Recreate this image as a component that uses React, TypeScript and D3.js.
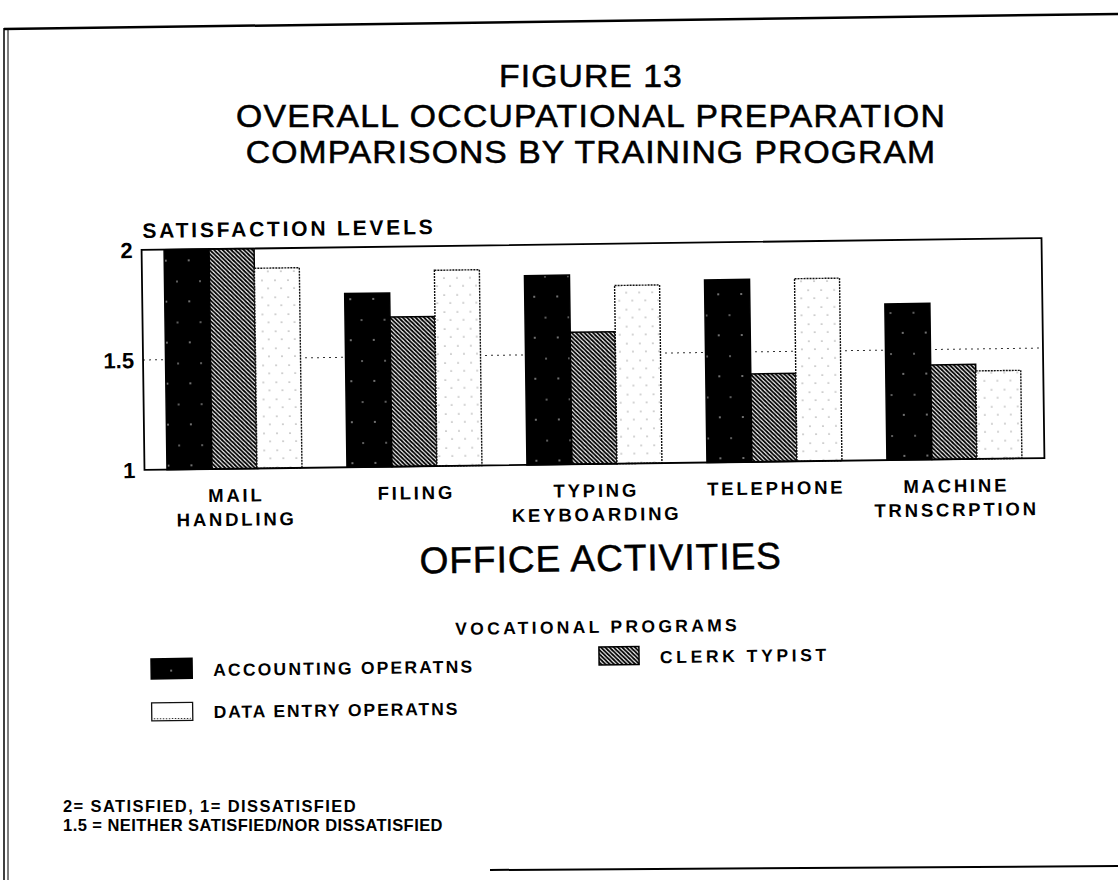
import React from 'react';
import * as d3 from 'd3';

// ---------- data ----------
const categories = ['MAIL HANDLING', 'FILING', 'TYPING KEYBOARDING', 'TELEPHONE', 'MACHINE TRNSCRPTION'];
const seriesNames = ['ACCOUNTING OPERATNS', 'CLERK TYPIST', 'DATA ENTRY OPERATNS'];
const accounting = [2.0, 1.79, 1.86, 1.83, 1.71];
const clerkTypist = [2.0, 1.68, 1.6, 1.4, 1.43];
const dataEntry = [1.91, 1.89, 1.81, 1.83, 1.4];
const yTicks = [1, 1.5, 2];
const yTickLabels = ['1', '1.5', '2'];
const neutralLevel = 1.5;
const titleLines = ['FIGURE 13', 'OVERALL OCCUPATIONAL PREPARATION', 'COMPARISONS BY TRAINING PROGRAM'];
const yAxisTitle = 'SATISFACTION LEVELS';
const xAxisTitle = 'OFFICE ACTIVITIES';
const legendTitle = 'VOCATIONAL PROGRAMS';
const noteLines = ['2= SATISFIED, 1= DISSATISFIED', '1.5 = NEITHER SATISFIED/NOR DISSATISFIED'];

const FONT = "'Liberation Sans', Arial, Helvetica, sans-serif";

export default function App() {
  const W = 1118;
  const H = 880;
  const plot = { left: 143, right: 1043, top: 244, bottom: 464 };

  const x0 = d3
    .scaleBand<string>()
    .domain(categories)
    .range([plot.left, plot.right])
    .paddingInner(0.25)
    .paddingOuter(0.125);
  const x1 = d3.scaleBand<string>().domain(seriesNames).range([0, x0.bandwidth()]);
  const y = d3.scaleLinear().domain([1, 2]).range([plot.bottom, plot.top]);

  const seriesValues = [accounting, clerkTypist, dataEntry];
  const styles = [
    { fill: 'url(#speckle)', stroke: '#000', dash: undefined as string | undefined, sw: 1.5 },
    { fill: 'url(#hatch)', stroke: '#000', dash: undefined as string | undefined, sw: 1.5 },
    { fill: 'url(#dots)', stroke: '#111', dash: '2,1', sw: 1.4 },
  ];

  const boldLabel = { fontFamily: FONT, fontWeight: 700, fill: '#000' } as const;
  const heavyRegular = { fontFamily: FONT, fill: '#000', stroke: '#000', strokeWidth: 0.55 } as const;
  const titleBaselines = [87, 127, 163];

  return (
    <svg
      width={W}
      height={H}
      viewBox={`0 0 ${W} ${H}`}
      style={{ position: 'absolute', left: 0, top: 0, background: '#fff' }}
    >
      <defs>
        <pattern id="hatch" patternUnits="userSpaceOnUse" width={4.2} height={4.2}>
          <rect width={4.2} height={4.2} fill="#fff" />
          <path
            d="M0,0 L4.2,4.2 M-1,3.2 L1,5.2 M3.2,-1 L5.2,1"
            stroke="#000"
            strokeWidth={1.9}
          />
        </pattern>
        <pattern id="speckle" patternUnits="userSpaceOnUse" width={23} height={41}>
          <rect width={23} height={41} fill="#000" />
          <circle cx={6} cy={9} r={0.8} fill="#fff" />
          <circle cx={17} cy={30} r={0.7} fill="#fff" />
        </pattern>
        <pattern id="dots" patternUnits="userSpaceOnUse" width={13} height={17}>
          <rect width={13} height={17} fill="#fff" />
          <circle cx={3} cy={4} r={0.6} fill="#444" />
          <circle cx={9} cy={12} r={0.6} fill="#444" />
        </pattern>
      </defs>

      <rect width={W} height={H} fill="#fff" />

      {/* scanned page frame */}
      <line x1={4} y1={29} x2={W} y2={14} stroke="#000" strokeWidth={2.5} />
      <line x1={4} y1={28} x2={4} y2={H} stroke="#000" strokeWidth={1.5} />
      <line x1={8} y1={30} x2={8} y2={H} stroke="#000" strokeWidth={1} />
      <line x1={490} y1={870} x2={W} y2={866} stroke="#000" strokeWidth={2} />

      {/* title */}
      {titleLines.map((t, i) => (
        <g key={t} transform={`translate(591, ${titleBaselines[i]}) scale(1.07, 1)`}>
          <text
            x={0}
            y={0}
            textAnchor="middle"
            style={{ ...heavyRegular, fontSize: 31.5, letterSpacing: i === 1 ? '1.2px' : '1px' }}
          >
            {t}
          </text>
        </g>
      ))}

      {/* notes */}
      {noteLines.map((n, i) => (
        <text
          key={n}
          x={63}
          y={812 + i * 19}
          style={{ ...boldLabel, fontSize: 16.5, letterSpacing: i === 1 ? '0.45px' : '1.4px' }}
        >
          {n}
        </text>
      ))}

      <g transform="rotate(-0.76, 593, 354)">
        {/* y axis title */}
        <text x={144} y={232} style={{ ...boldLabel, fontSize: 21, letterSpacing: '2.8px' }}>
          {yAxisTitle}
        </text>

        {/* neutral reference line */}
        <line
          x1={plot.left}
          x2={plot.right}
          y1={y(neutralLevel)}
          y2={y(neutralLevel)}
          stroke="#333"
          strokeWidth={1}
          strokeDasharray="2,4"
        />

        {/* bars */}
        {seriesNames.map((s, si) => (
          <g key={s}>
            {categories.map((c, ci) => {
              const v = seriesValues[si][ci];
              const st = styles[si];
              return (
                <rect
                  key={c}
                  x={(x0(c) ?? 0) + (x1(s) ?? 0)}
                  y={y(v)}
                  width={x1.bandwidth()}
                  height={y(1) - y(v)}
                  fill={st.fill}
                  stroke={st.stroke}
                  strokeWidth={st.sw}
                  strokeDasharray={st.dash}
                />
              );
            })}
          </g>
        ))}

        {/* plot frame */}
        <rect
          x={plot.left}
          y={plot.top}
          width={plot.right - plot.left}
          height={plot.bottom - plot.top}
          fill="none"
          stroke="#000"
          strokeWidth={1.8}
        />

        {/* y tick labels */}
        {yTicks.map((t, i) => (
          <text
            key={t}
            x={plot.left - 9}
            y={y(t)}
            dy="0.36em"
            textAnchor="end"
            style={{ ...boldLabel, fontSize: 22 }}
          >
            {yTickLabels[i]}
          </text>
        ))}

        {/* x category labels */}
        {categories.map((c) => {
          const cx = (x0(c) ?? 0) + x0.bandwidth() / 2;
          return c.split(' ').map((line, li) => (
            <text
              key={c + li}
              x={cx + 1.5}
              y={497 + li * 24}
              textAnchor="middle"
              style={{ ...boldLabel, fontSize: 18.5, letterSpacing: '2.8px' }}
            >
              {line}
            </text>
          ));
        })}

        {/* x axis title */}
        <text
          x={598}
          y={571}
          textAnchor="middle"
          style={{ ...heavyRegular, fontSize: 37, letterSpacing: '1px' }}
        >
          {xAxisTitle}
        </text>

        {/* legend */}
        <text
          x={594}
          y={633}
          textAnchor="middle"
          style={{ ...boldLabel, fontSize: 17.5, letterSpacing: '3.3px' }}
        >
          {legendTitle}
        </text>

        <rect x={147} y={653} width={41} height={20} fill="url(#speckle)" stroke="#000" strokeWidth={1.5} />
        <text x={209} y={671} style={{ ...boldLabel, fontSize: 17.5, letterSpacing: '2.2px' }}>
          {seriesNames[0]}
        </text>

        <rect x={595} y={647} width={40} height={18} fill="url(#hatch)" stroke="#000" strokeWidth={1.5} />
        <text x={656} y={664} style={{ ...boldLabel, fontSize: 17.5, letterSpacing: '3.6px' }}>
          {seriesNames[1]}
        </text>

        <rect x={147} y={697} width={41} height={18} fill="#fff" stroke="#111" strokeWidth={1.3} />
        <line x1={149} x2={186} y1={713} y2={713} stroke="#333" strokeWidth={1} strokeDasharray="1.5,1.5" />
        <text x={209} y={713} style={{ ...boldLabel, fontSize: 17.5, letterSpacing: '1.9px' }}>
          {seriesNames[2]}
        </text>
      </g>
    </svg>
  );
}
